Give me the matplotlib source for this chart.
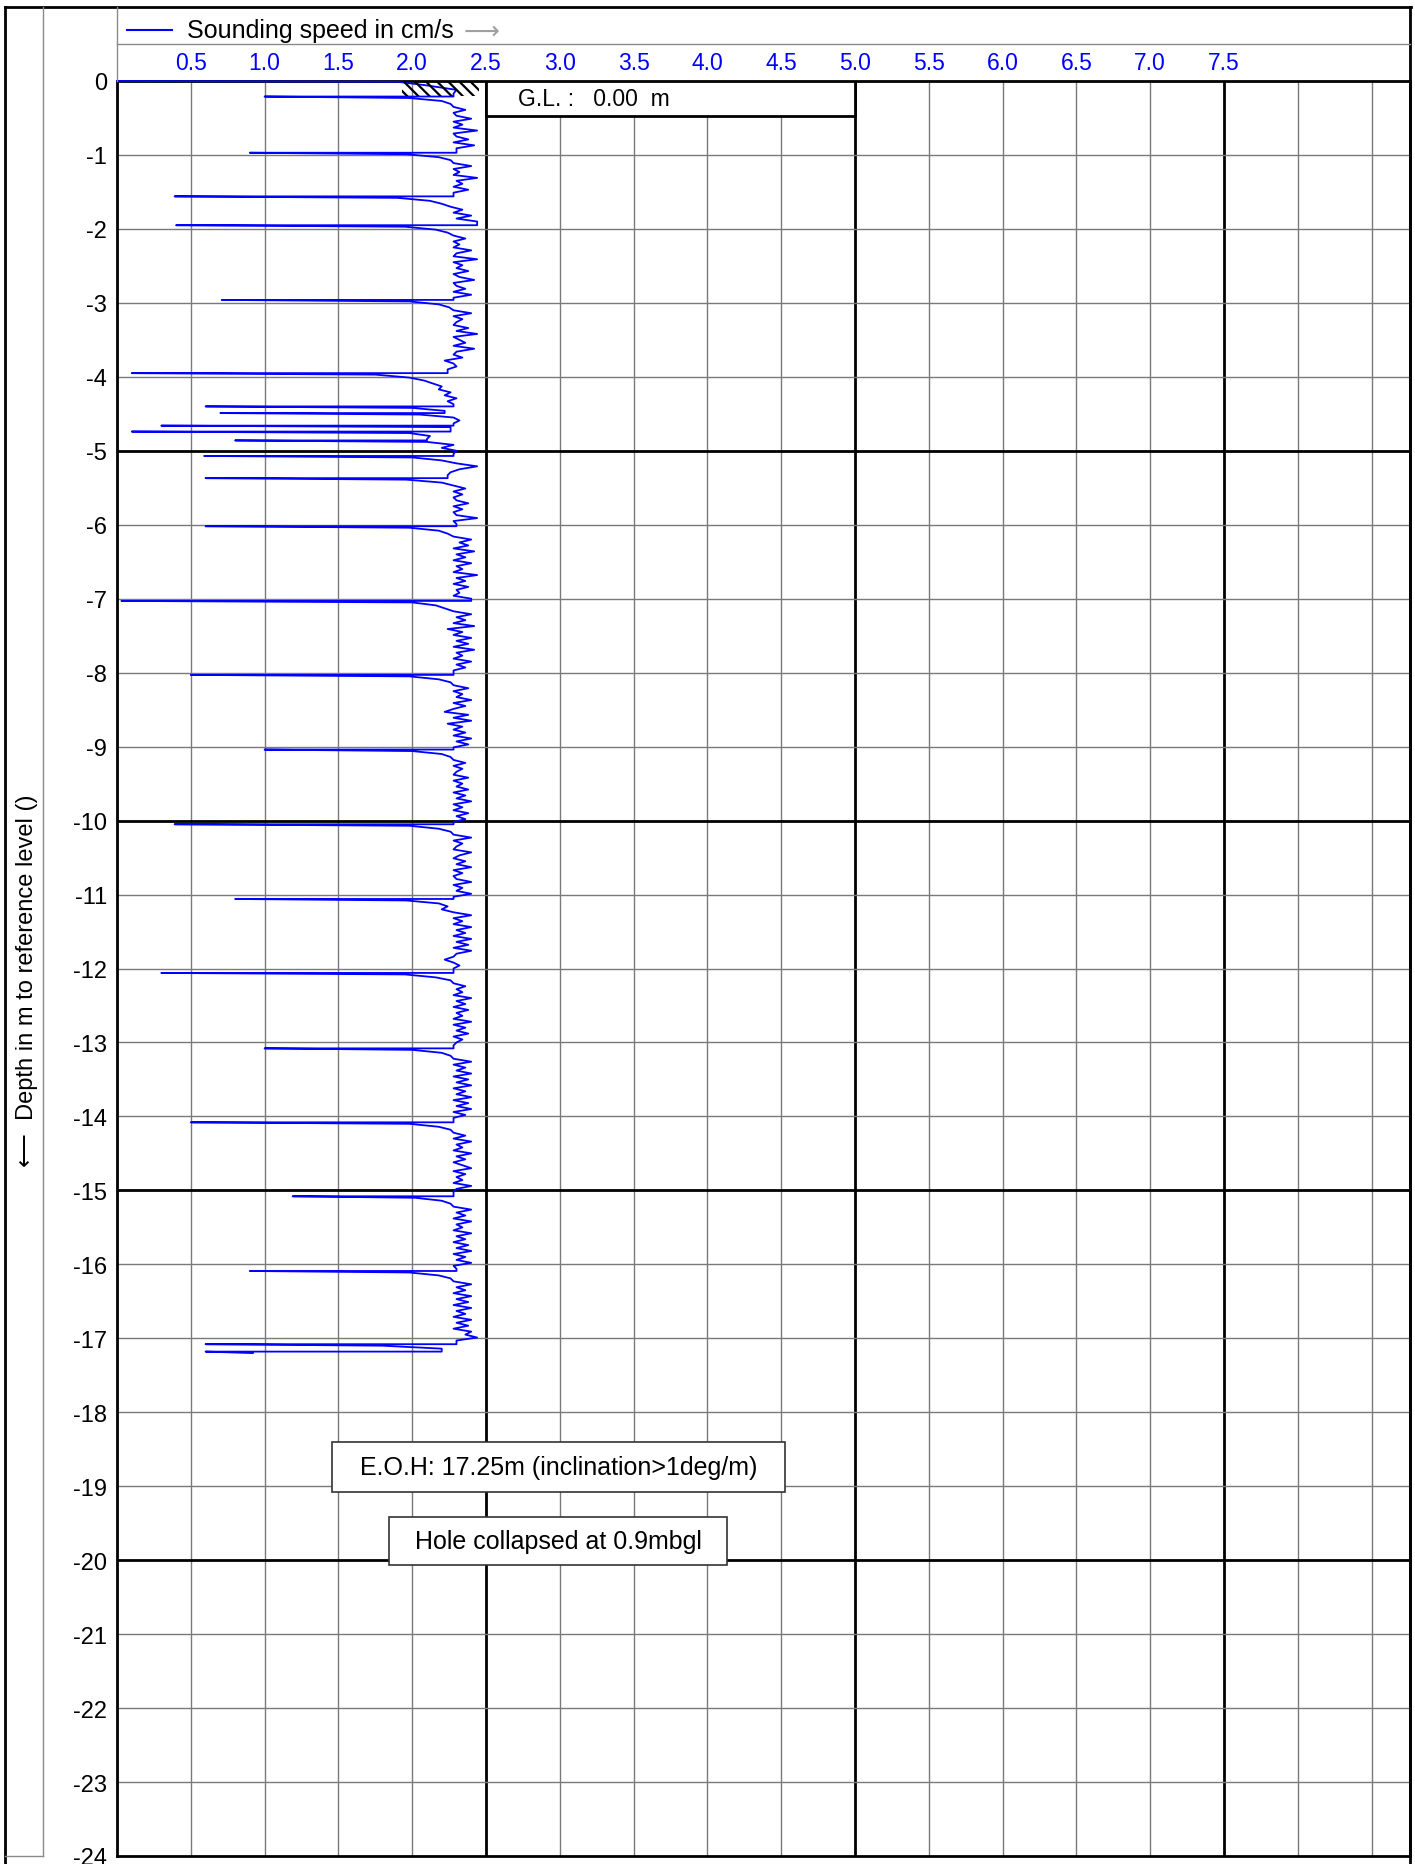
import numpy as np
import matplotlib.pyplot as plt
from matplotlib.patches import Rectangle
from matplotlib.lines import Line2D

plt.rcParams['font.family'] = ['Liberation Sans', 'DejaVu Sans']
plt.rcParams['hatch.linewidth'] = 1.6
plt.rcParams['hatch.color'] = 'black'

# ---- DATA (read off the sounding log) ----
# trace from ground level down to the first rod change
start_depth = [0.00, 0.01, 0.06, 0.12, 0.17]
start_speed = [0.00, 1.90, 2.10, 2.30, 2.28]

# depths where the speed collapses and the lowest speed read there
drop_depth = [0.21, 0.97, 1.56, 1.95, 2.96, 3.95, 4.40, 4.49, 4.66, 4.74, 4.86,
              5.07, 5.37, 6.02, 7.03, 8.03, 9.04, 10.05, 11.06, 12.06, 13.08,
              14.08, 15.08, 16.09, 17.08, 17.18]
drop_speed = [1.00, 0.90, 0.39, 0.40, 0.71, 0.10, 0.60, 0.70, 0.30, 0.10, 0.80,
              0.59, 0.60, 0.60, 0.03, 0.50, 1.00, 0.39, 0.80, 0.30, 1.00,
              0.50, 1.19, 0.90, 0.60, 0.60]

# speeds recorded every 4 cm after each drop
step = 0.04
after_drop = [
    [1.98, 2.20, 2.26, 2.28, 2.36, 2.28, 2.30, 2.40, 2.28, 2.34, 2.28, 2.44, 2.28, 2.30, 2.38, 2.28, 2.42, 2.30],
    [1.96, 2.18, 2.26, 2.28, 2.40, 2.28, 2.32, 2.28, 2.44, 2.30, 2.34, 2.28, 2.38, 2.28],
    [1.90, 2.12, 2.20, 2.26, 2.34, 2.28, 2.40, 2.30, 2.44],
    [1.95, 2.16, 2.24, 2.28, 2.36, 2.28, 2.32, 2.28, 2.40, 2.30, 2.28, 2.44, 2.28, 2.34, 2.30, 2.38, 2.28, 2.32, 2.42, 2.28, 2.30, 2.36, 2.28, 2.40, 2.28],
    [1.98, 2.18, 2.25, 2.28, 2.40, 2.28, 2.34, 2.30, 2.28, 2.38, 2.30, 2.44, 2.28, 2.32, 2.36, 2.28, 2.42, 2.30, 2.28, 2.34, 2.22, 2.28, 2.30, 2.24],
    [1.75, 1.98, 2.08, 2.14, 2.20, 2.18, 2.26, 2.22, 2.30, 2.24, 2.28],
    [2.00, 2.22],
    [2.05, 2.28, 2.32, 2.28],
    [2.26],
    [1.98, 2.12, 2.10],
    [2.10, 2.28, 2.20, 2.30, 2.28],
    [2.00, 2.20, 2.30, 2.44, 2.32, 2.26, 2.24],
    [1.96, 2.20, 2.28, 2.36, 2.28, 2.34, 2.28, 2.30, 2.38, 2.28, 2.34, 2.28, 2.30, 2.44, 2.28, 2.30],
    [1.98, 2.18, 2.24, 2.28, 2.40, 2.32, 2.38, 2.28, 2.42, 2.30, 2.36, 2.28, 2.40, 2.30, 2.34, 2.28, 2.44, 2.30, 2.36, 2.28, 2.38, 2.30, 2.32, 2.28, 2.40],
    [2.00, 2.16, 2.22, 2.28, 2.40, 2.30, 2.36, 2.28, 2.42, 2.24, 2.34, 2.28, 2.40, 2.30, 2.38, 2.28, 2.42, 2.30, 2.34, 2.28, 2.40, 2.30, 2.36, 2.28],
    [1.98, 2.18, 2.26, 2.28, 2.38, 2.28, 2.34, 2.30, 2.40, 2.28, 2.36, 2.28, 2.22, 2.38, 2.28, 2.40, 2.24, 2.34, 2.28, 2.36, 2.28, 2.40, 2.30, 2.38, 2.28],
    [2.00, 2.20, 2.26, 2.28, 2.36, 2.28, 2.34, 2.30, 2.28, 2.38, 2.28, 2.34, 2.30, 2.38, 2.28, 2.36, 2.30, 2.40, 2.28, 2.34, 2.28, 2.38, 2.30, 2.36, 2.28],
    [1.98, 2.18, 2.26, 2.28, 2.40, 2.28, 2.34, 2.30, 2.28, 2.40, 2.32, 2.28, 2.36, 2.30, 2.40, 2.28, 2.34, 2.28, 2.30, 2.40, 2.28, 2.34, 2.30, 2.40, 2.28],
    [1.96, 2.18, 2.24, 2.20, 2.28, 2.40, 2.28, 2.34, 2.28, 2.40, 2.30, 2.36, 2.28, 2.40, 2.30, 2.38, 2.28, 2.40, 2.30, 2.28, 2.22, 2.28, 2.32, 2.28],
    [1.95, 2.16, 2.26, 2.28, 2.36, 2.30, 2.34, 2.28, 2.40, 2.30, 2.36, 2.28, 2.38, 2.30, 2.34, 2.28, 2.40, 2.28, 2.36, 2.30, 2.38, 2.28, 2.34, 2.30, 2.28],
    [2.00, 2.20, 2.26, 2.28, 2.40, 2.28, 2.36, 2.30, 2.40, 2.28, 2.38, 2.30, 2.40, 2.28, 2.36, 2.30, 2.40, 2.28, 2.38, 2.30, 2.40, 2.28, 2.36, 2.28],
    [1.98, 2.18, 2.26, 2.28, 2.36, 2.28, 2.40, 2.30, 2.34, 2.28, 2.40, 2.30, 2.36, 2.28, 2.34, 2.40, 2.28, 2.36, 2.30, 2.34, 2.28, 2.40, 2.30, 2.28],
    [2.02, 2.20, 2.26, 2.28, 2.40, 2.30, 2.36, 2.28, 2.40, 2.30, 2.34, 2.28, 2.40, 2.30, 2.36, 2.28, 2.38, 2.30, 2.40, 2.28, 2.36, 2.30, 2.40, 2.28, 2.30],
    [1.98, 2.18, 2.26, 2.28, 2.40, 2.30, 2.36, 2.28, 2.40, 2.30, 2.38, 2.28, 2.40, 2.30, 2.36, 2.28, 2.40, 2.30, 2.38, 2.28, 2.40, 2.36, 2.44, 2.30],
    [1.80, 2.20],
    [0.92],
]

x_ticks = [0.5, 1.0, 1.5, 2.0, 2.5, 3.0, 3.5, 4.0, 4.5, 5.0, 5.5, 6.0, 6.5, 7.0, 7.5]
x_grid = x_ticks + [8.0, 8.5]
x_major = [2.5, 5.0, 7.5]
depth_ticks = list(range(0, -25, -1))

eoh_text = 'E.O.H: 17.25m (inclination>1deg/m)'
collapse_text = 'Hole collapsed at 0.9mbgl'
gl_text = 'G.L. :   0.00  m'

# ---- build trace ----
dep = list(start_depth)
spd = list(start_speed)
for i in range(len(drop_depth)):
    dep += [drop_depth[i], drop_depth[i]]
    spd += [spd[-1], drop_speed[i]]
    for k, v in enumerate(after_drop[i]):
        dep.append(drop_depth[i] + 0.02 + step * k)
        spd.append(v)
dep = -np.array(dep)
spd = np.array(spd)

# ---- FIGURE ----
W, H = 1415, 1865
fig = plt.figure(figsize=(W / 100, H / 100), dpi=100)

def fx(px):
    return px / W

def fy(py):
    return 1 - py / H

ax = fig.add_axes([fx(117), fy(1857), fx(1410) - fx(117), fy(82) - fy(1857)])
ax.set_xlim(0, 8.76)
ax.set_ylim(-24, 0)

for x in x_grid:
    if x in x_major:
        ax.axvline(x, color='black', lw=2, zorder=1)
    else:
        ax.axvline(x, color='#7a7a7a', lw=1, zorder=1)
for y in depth_ticks[1:-1]:
    if y % 5 == 0:
        ax.axhline(y, color='black', lw=2, zorder=1)
    else:
        ax.axhline(y, color='#7a7a7a', lw=1, zorder=1)

ax.plot(spd, dep, color='#0000ff', lw=1.3, zorder=3, clip_on=False)

# ground surface hatching
ax.add_patch(Rectangle((1.93, -0.2), 0.52, 0.2, hatch='\\\\\\', fill=False,
                       edgecolor='black', lw=0, zorder=4))

# G.L. box
ax.add_patch(Rectangle((2.5, -0.47), 2.5, 0.47, facecolor='white',
                       edgecolor='black', lw=2, zorder=5))
ax.text(2.72, -0.24, gl_text, fontsize=16.5, va='center', ha='left', zorder=6)

# annotation boxes
ax.add_patch(Rectangle((1.457, -19.08), 3.069, 0.68, facecolor='white',
                       edgecolor='#333333', lw=1.2, zorder=5))
ax.text(2.99, -18.74, eoh_text, fontsize=18, ha='center', va='center', zorder=6)
ax.add_patch(Rectangle((1.843, -20.07), 2.29, 0.65, facecolor='white',
                       edgecolor='#333333', lw=1.2, zorder=5))
ax.text(2.99, -19.745, collapse_text, fontsize=18, ha='center', va='center', zorder=6)

ax.xaxis.tick_top()
ax.set_xticks(x_ticks)
ax.set_xticklabels([f'{v:.1f}' for v in x_ticks])
ax.set_yticks(depth_ticks)
ax.set_yticklabels([str(v) for v in depth_ticks])
ax.tick_params(axis='x', length=0, pad=5, labelsize=16.5, labelcolor='#0000ff')
ax.tick_params(axis='y', length=0, pad=7, labelsize=17, labelcolor='black')
for s in ax.spines.values():
    s.set_linewidth(2)
    s.set_zorder(2.5)

# ---- header / frame ----
def fline(x0, y0, x1, y1, color='black', lw=2):
    fig.add_artist(Line2D([fx(x0), fx(x1)], [fy(y0), fy(y1)], color=color,
                          lw=lw, transform=fig.transFigure))

fline(5, 8, 1411, 8)
fline(5, 8, 5, 1865)
fline(1410, 8, 1410, 1865)
fline(43, 8, 43, 1857, color='#8a8a8a', lw=1)
fline(117, 8, 117, 82, color='#8a8a8a', lw=1)
fline(117, 45, 1410, 45, color='#8a8a8a', lw=1)
fline(5, 1857, 43, 1857, color='#8a8a8a', lw=1)

fline(127, 31, 172, 31, color='#0000ff', lw=1.5)
fig.text(fx(187), fy(31), 'Sounding speed in cm/s', fontsize=18,
         va='center', ha='left')
fig.text(fx(464), fy(32), '\u27f6', fontsize=18, color='#a0a0a0',
         va='center', ha='left')

fig.text(fx(27), fy(981), '\u27f5  Depth in m to reference level ()',
         rotation=90, fontsize=17, ha='center', va='center')

fig.savefig('out.png', dpi=100)
